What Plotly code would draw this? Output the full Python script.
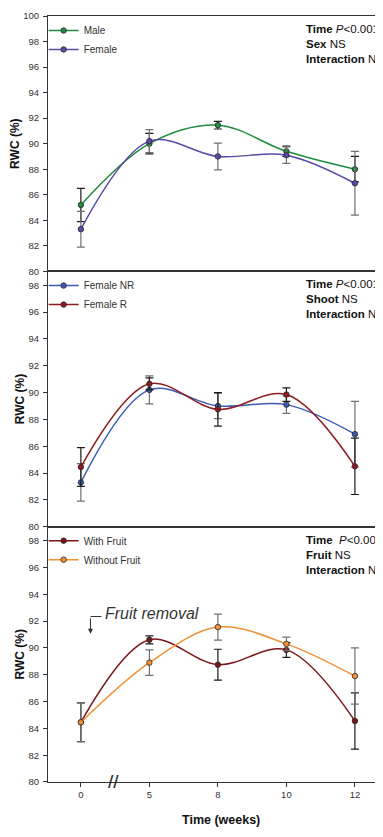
import plotly.graph_objects as go
from plotly.subplots import make_subplots

weeks = ["0", "5", "8", "10", "12"]

# Panel 1: sex
male = [85.2, 90.0, 91.45, 89.4, 88.0]
male_err = [1.3, 0.8, 0.3, 0.4, 1.0]
female = [83.3, 90.2, 89.0, 89.1, 86.9]
female_err = [1.4, 0.9, 1.05, 0.65, 2.5]

# Panel 2: shoot
female_nr = [83.3, 90.2, 89.0, 89.1, 86.9]
female_nr_err = [1.4, 1.05, 0.95, 0.65, 2.45]
female_r = [84.45, 90.65, 88.75, 89.85, 84.5]
female_r_err = [1.45, 0.45, 1.25, 0.5, 2.1]

# Panel 3: fruit
with_fruit = [84.45, 90.6, 88.75, 89.85, 84.55]
with_fruit_err = [1.45, 0.3, 1.15, 0.55, 2.1]
without_fruit = [84.45, 88.9, 91.55, 90.3, 87.9]
without_fruit_err = [1.45, 0.95, 0.97, 0.5, 2.1]

FONT = "Liberation Sans, Arial, sans-serif"
DARK = "#1a1a1a"
GRAY = "#707070"

fig = make_subplots(rows=3, cols=1, shared_xaxes=True, vertical_spacing=0)


def add_series(row, name, y, err, color, errcolor, legend):
    fig.add_trace(go.Scatter(
        x=weeks, y=y, name=name, mode="lines+markers",
        line=dict(color=color, width=1.5, shape="spline", smoothing=1.0),
        marker=dict(size=5.5, color=color, line=dict(color="#2a2a2a", width=0.8)),
        error_y=dict(type="data", array=err, visible=True, color=errcolor,
                     thickness=1.2, width=4),
        legend=legend,
    ), row=row, col=1)


add_series(1, "Male", male, male_err, "#1f8c3f", DARK, "legend")
add_series(1, "Female", female, female_err, "#5b48a8", GRAY, "legend")
add_series(2, "Female NR", female_nr, female_nr_err, "#3c5ab4", GRAY, "legend2")
add_series(2, "Female R", female_r, female_r_err, "#8e1b1e", DARK, "legend2")
add_series(3, "With Fruit", with_fruit, with_fruit_err, "#7a1618", DARK, "legend3")
add_series(3, "Without Fruit", without_fruit, without_fruit_err, "#f39034", GRAY, "legend3")

# page body has an 8px margin: size the figure so it fills the window exactly
W, H = 375, 821
fig.update_layout(
    width=W, height=H,
    margin=dict(l=40, r=0, t=8, b=47),
    paper_bgcolor="white", plot_bgcolor="white",
    font=dict(family=FONT, size=10, color="#333"),
)

leg_common = dict(xref="paper", yref="paper", xanchor="left", yanchor="top",
                  bgcolor="rgba(0,0,0,0)", font=dict(size=10, color="#333"),
                  itemwidth=30, tracegroupgap=0)
fig.update_layout(
    legend=dict(x=-0.013, y=1.0, **leg_common),
    legend2=dict(x=-0.013, y=0.667, **leg_common),
    legend3=dict(x=-0.013, y=0.334, **leg_common),
)

for r in (1, 2, 3):
    fig.update_xaxes(
        row=r, col=1, type="category", range=[-0.48, 4.41],
        showline=True, linecolor="#333", linewidth=1, mirror=True,
        showgrid=False, zeroline=False,
        ticks="outside" if r == 3 else "", ticklen=4, tickcolor="#333",
        showticklabels=(r == 3),
        tickfont=dict(size=9.5, color="#333"),
    )
    fig.update_yaxes(
        row=r, col=1,
        range=[80, 100] if r == 1 else [80, 99.04],
        tickmode="linear", tick0=80, dtick=2,
        showline=True, linecolor="#333", linewidth=1, mirror=False,
        showgrid=False, zeroline=False,
        ticks="outside", ticklen=4, tickcolor="#333",
        tickfont=dict(size=9.5, color="#333"),
        ticklabelstandoff=2,
        title=dict(text="<b>RWC (%)</b>", font=dict(size=12, color="#111"), standoff=1),
    )

stats = [
    ("x domain", "y domain", "<b>Time</b> <i>P</i>&lt;0.001<br><b>Sex</b> NS<br><b>Interaction</b> NS"),
    ("x2 domain", "y2 domain", "<b>Time</b> <i>P</i>&lt;0.001<br><b>Shoot</b> NS<br><b>Interaction</b> NS"),
    ("x3 domain", "y3 domain", "<b>Time</b>&nbsp; <i>P</i>&lt;0.001<br><b>Fruit</b> NS<br><b>Interaction</b> NS"),
]
for xr, yr, txt in stats:
    fig.add_annotation(xref=xr, yref=yr, x=0.765, y=0.98, xanchor="left", yanchor="top",
                       text=txt, showarrow=False, align="left",
                       font=dict(size=11.5, color="#111", family=FONT))

# Fruit removal annotation with bent arrow
fig.add_annotation(xref="x3", yref="y3", x=0.33, y=92.55, xanchor="left", yanchor="middle",
                   text="<i>Fruit removal</i>", showarrow=False,
                   font=dict(size=16, color="#333", family=FONT))
fig.add_shape(type="line", xref="x3", yref="y3", x0=0.14, x1=0.30, y0=92.34, y1=92.34,
              line=dict(color="#333", width=1))
fig.add_annotation(xref="x3", yref="y3", x=0.14, y=91.05, ax=0, ay=-17,
                   text="", showarrow=True, arrowhead=2, arrowsize=1, arrowwidth=1,
                   arrowcolor="#333")

# Axis break marker
fig.add_annotation(xref="x3", yref="y3", x=0.47, y=80, text="//", showarrow=False,
                   xanchor="center", yanchor="middle",
                   font=dict(size=19, color="#222", family=FONT))

# X-axis title
fig.add_annotation(xref="paper", yref="paper", x=0.515, y=-0.049, text="<b>Time (weeks)</b>",
                   showarrow=False, xanchor="center", yanchor="middle",
                   font=dict(size=12.5, color="#111", family=FONT))

fig.write_html("out.html")
